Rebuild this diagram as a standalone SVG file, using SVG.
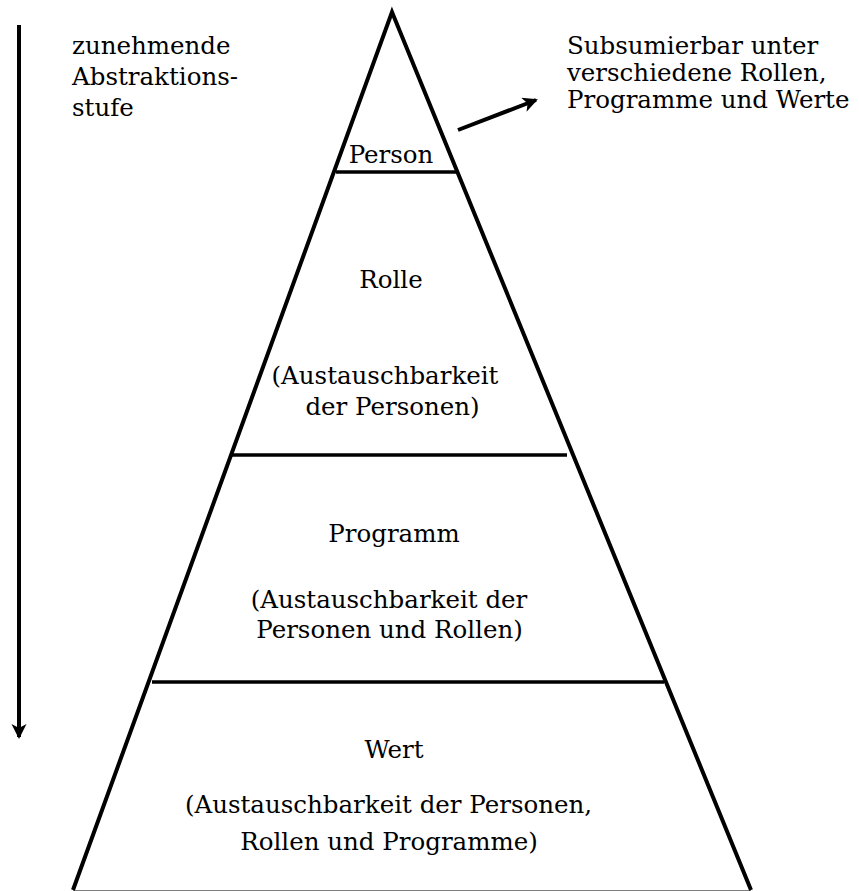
<svg xmlns="http://www.w3.org/2000/svg" width="859" height="891" viewBox="0 0 859 891">
<defs>
<marker id="ah" markerWidth="16" markerHeight="16" refX="13" refY="7.5" orient="auto" markerUnits="userSpaceOnUse">
<path d="M0,0 L15,7.5 L0,15 L4,7.5 Z" fill="#000"/>
</marker>
<style>
.t{font-family:"DejaVu Serif","Liberation Serif",serif;font-size:24.5px;fill:#000}
.c{text-anchor:middle}
.ln{stroke:#000;stroke-width:4;fill:none}
.hl{stroke:#000;stroke-width:3.5;fill:none}
</style>
</defs>
<rect width="859" height="891" fill="#fff"/>
<g id="pyramid">
<path class="ln" d="M73,890 L392,12 L751,890"/>
<line class="ln" x1="73" y1="892.5" x2="751" y2="892.5"/>
</g>
<g id="person">
<line class="hl" x1="336" y1="172" x2="456" y2="172"/>
<text class="t c" x="391" y="163">Person</text>
</g>
<g id="rolle">
<line class="hl" x1="230" y1="455" x2="567" y2="455"/>
<text class="t c" x="391" y="288">Rolle</text>
<text class="t c" x="385" y="384">(Austauschbarkeit</text>
<text class="t c" x="392.5" y="415">der Personen)</text>
</g>
<g id="programm">
<line class="hl" x1="152" y1="682" x2="664" y2="682"/>
<text class="t c" x="394" y="542">Programm</text>
<text class="t c" x="389" y="608">(Austauschbarkeit der</text>
<text class="t c" x="389.5" y="638">Personen und Rollen)</text>
</g>
<g id="wert">
<text class="t c" x="394" y="758">Wert</text>
<text class="t c" x="388.5" y="813">(Austauschbarkeit der Personen,</text>
<text class="t c" x="389" y="850">Rollen und Programme)</text>
</g>
<g id="abstraktion">
<text class="t" x="72" y="54">zunehmende</text>
<text class="t" x="72" y="85">Abstraktions-</text>
<text class="t" x="72" y="116">stufe</text>
</g>
<g id="subsumierbar">
<text class="t" x="567" y="54">Subsumierbar unter</text>
<text class="t" x="567" y="81">verschiedene Rollen,</text>
<text class="t" x="567" y="108">Programme und Werte</text>
</g>
<g id="connectors">
<line class="ln" x1="19" y1="25" x2="19" y2="737" marker-end="url(#ah)"/>
<line class="ln" x1="458" y1="130" x2="536" y2="100" marker-end="url(#ah)"/>
</g>
</svg>
